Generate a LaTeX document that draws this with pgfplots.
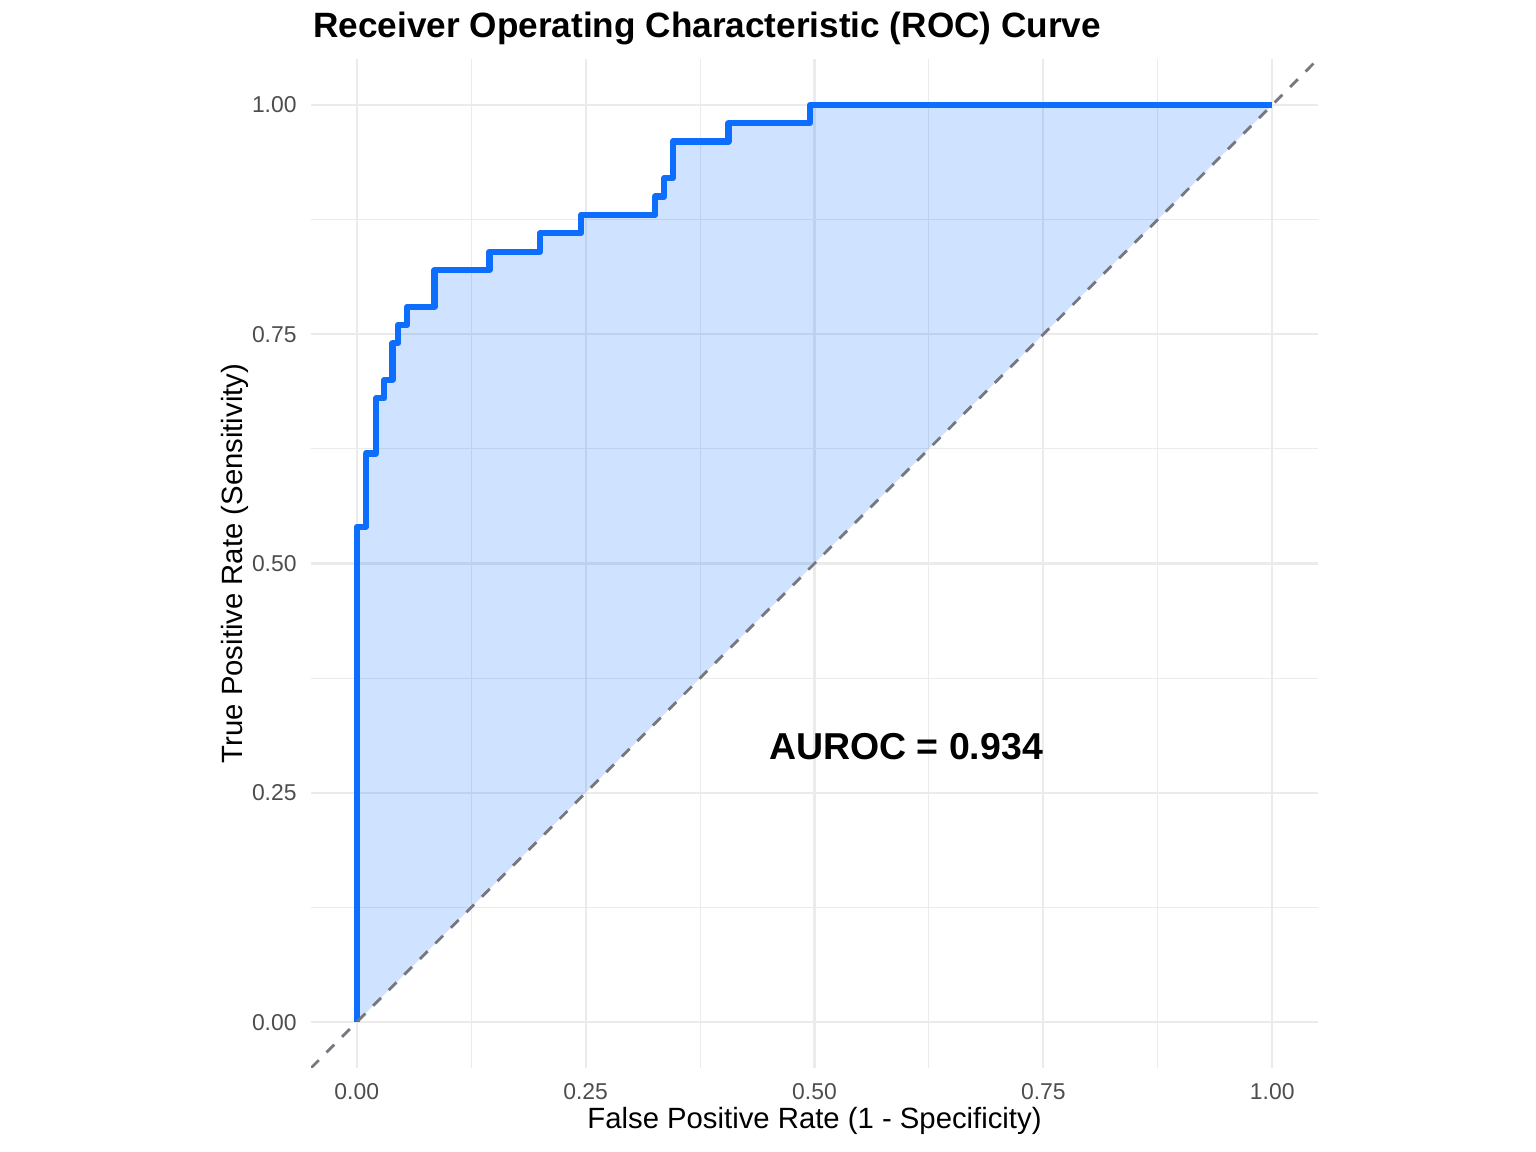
\documentclass[border=0pt]{standalone}
\usepackage{pgfplots}
\pgfplotsset{compat=1.18}
\usepackage{fontspec}
\setmainfont{Liberation Sans}
\definecolor{roc}{RGB}{13,110,253}
\definecolor{gridgray}{RGB}{235,235,235}
\definecolor{tickgray}{RGB}{77,77,77}
\definecolor{diag}{RGB}{118,120,128}
\begin{document}
\begin{tikzpicture}
\path[use as bounding box] (0,0) rectangle (768bp,576bp);
\begin{axis}[
  at={(155.5bp,42bp)}, anchor=south west,
  scale only axis, width=503.5bp, height=504.5bp,
  xmin=-0.05, xmax=1.05, ymin=-0.05, ymax=1.05,
  axis line style={draw=none},
  major tick length=0pt, minor tick length=0pt,
  tick style={draw=none},
  xtick={0,0.25,0.5,0.75,1}, ytick={0,0.25,0.5,0.75,1},
  xticklabels={0.00,0.25,0.50,0.75,1.00},
  yticklabels={0.00,0.25,0.50,0.75,1.00},
  minor xtick={0.125,0.375,0.625,0.875},
  minor ytick={0.125,0.375,0.625,0.875},
  grid=both,
  major grid style={line width=1.1bp, draw=gridgray},
  minor grid style={line width=0.55bp, draw=gridgray},
  xticklabel style={font=\fontsize{11.5}{13}\selectfont, text=tickgray, inner sep=0pt, anchor=north, yshift=-7.5bp},
  yticklabel style={font=\fontsize{11.5}{13}\selectfont, text=tickgray, inner sep=0pt, anchor=east, xshift=-7bp},
  clip=true,
]
\addplot[draw=none, fill=roc, fill opacity=0.2] coordinates {
(0,0) (0,0.54) (0.010,0.54) (0.010,0.62) (0.021,0.62) (0.021,0.68) (0.030,0.68) (0.030,0.70)
(0.039,0.70) (0.039,0.74) (0.045,0.74) (0.045,0.76) (0.055,0.76) (0.055,0.78) (0.085,0.78)
(0.085,0.82) (0.145,0.82) (0.145,0.84) (0.200,0.84) (0.200,0.86) (0.245,0.86) (0.245,0.88)
(0.326,0.88) (0.326,0.90) (0.336,0.90) (0.336,0.92) (0.345,0.92) (0.345,0.96) (0.406,0.96)
(0.406,0.98) (0.495,0.98) (0.495,1.00) (1,1)} -- cycle;
\addplot[roc, line width=3.1bp, line join=round, line cap=butt] coordinates {
(0,0) (0,0.54) (0.010,0.54) (0.010,0.62) (0.021,0.62) (0.021,0.68) (0.030,0.68) (0.030,0.70)
(0.039,0.70) (0.039,0.74) (0.045,0.74) (0.045,0.76) (0.055,0.76) (0.055,0.78) (0.085,0.78)
(0.085,0.82) (0.145,0.82) (0.145,0.84) (0.200,0.84) (0.200,0.86) (0.245,0.86) (0.245,0.88)
(0.326,0.88) (0.326,0.90) (0.336,0.90) (0.336,0.92) (0.345,0.92) (0.345,0.96) (0.406,0.96)
(0.406,0.98) (0.495,0.98) (0.495,1.00) (1,1)};
\addplot[diag, line width=1.4bp, dash pattern=on 5.5bp off 5.5bp] coordinates {(-0.05,-0.05) (1.05,1.05)};
\node[font=\fontsize{18.8}{22}\selectfont\bfseries, inner sep=0pt] at (axis cs:0.6,0.3) {AUROC = 0.934};
\end{axis}
\node[anchor=base west, inner sep=0pt, font=\fontsize{17.65}{20}\selectfont\bfseries] at (156.5bp,557bp) {Receiver Operating Characteristic (ROC) Curve};
\node[anchor=base, inner sep=0pt, font=\fontsize{14.7}{17}\selectfont] at (407.25bp,12bp) {False Positive Rate (1 - Specificity)};
\node[anchor=base, inner sep=0pt, rotate=90, font=\fontsize{14.7}{17}\selectfont] at (121bp,294.25bp) {True Positive Rate (Sensitivity)};
\end{tikzpicture}
\end{document}
